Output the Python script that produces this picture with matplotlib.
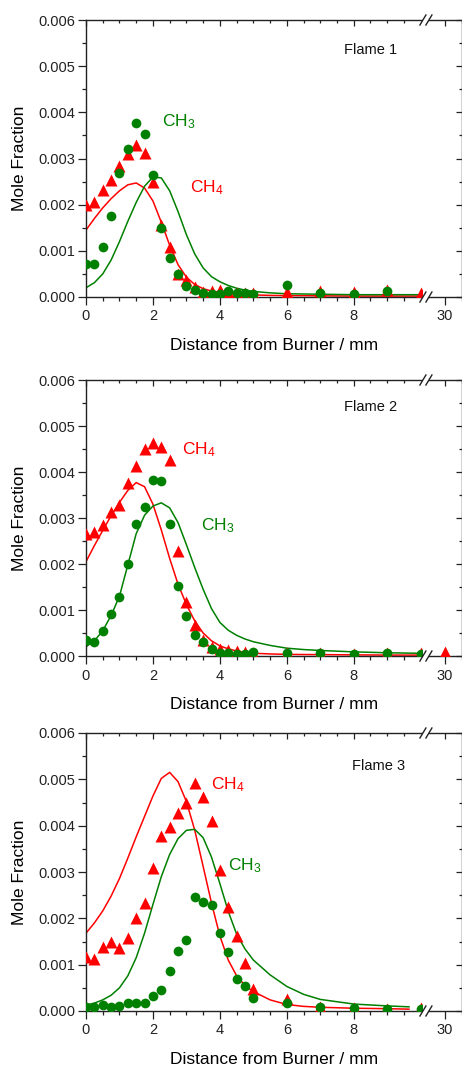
import numpy as np
import matplotlib
matplotlib.use('Agg')
from matplotlib import pyplot as plt
from matplotlib.lines import Line2D
from matplotlib.patches import Rectangle

plt.rcParams['font.family'] = ['Liberation Sans', 'DejaVu Sans']
plt.rcParams['mathtext.fontset'] = 'custom'
plt.rcParams['mathtext.rm'] = 'Liberation Sans'
plt.rcParams['mathtext.it'] = 'Liberation Sans'

# measured points (distance / mm), mole fractions in units of 1e-3
x_pts = [0, 0.25, 0.5, 0.75, 1.0, 1.25, 1.5, 1.75, 2.0, 2.25, 2.5, 2.75, 3.0,
         3.25, 3.5, 3.75, 4.0, 4.25, 4.5, 4.75, 5.0, 6, 7, 8, 9, 10]
x_pts2 = x_pts + [30]

ch4_f1 = [2.00, 2.06, 2.31, 2.53, 2.84, 3.09, 3.29, 3.11, 2.49, 1.55, 1.08, 0.50, 0.36,
          0.22, 0.11, 0.14, 0.16, 0.11, 0.09, 0.09, 0.08, 0.10, 0.14, 0.10, 0.16, 0.08]
ch3_f1 = [0.72, 0.72, 1.08, 1.76, 2.69, 3.20, 3.77, 3.52, 2.64, 1.50, 0.85, 0.49, 0.23,
          0.16, 0.09, 0.07, 0.07, 0.13, 0.09, 0.09, 0.07, 0.27, 0.09, 0.07, 0.13, np.nan]

ch4_f2 = [2.65, 2.69, 2.85, 3.12, 3.28, 3.77, 4.12, 4.50, 4.62, 4.54, 4.26, 2.28, 1.18,
          0.67, 0.35, 0.20, 0.15, 0.12, 0.10, 0.08, 0.06, 0.06, 0.07, 0.05, 0.06, 0.07, 0.09]
ch3_f2 = [0.35, 0.31, 0.54, 0.91, 1.29, 1.99, 2.86, 3.25, 3.83, 3.81, 2.87, 1.52, 0.88,
          0.46, 0.30, 0.15, 0.07, 0.06, 0.05, 0.05, 0.09, 0.06, 0.06, 0.04, 0.06, 0.04]

ch4_f3 = [1.16, 1.12, 1.39, 1.50, 1.35, 1.58, 2.00, 2.33, 3.08, 3.77, 3.98, 4.27, 4.49,
          4.92, 4.62, 4.11, 3.05, 2.25, 1.61, 1.04, 0.47, 0.25, 0.09, 0.06, 0.04, 0.06]
ch3_f3 = [0.09, 0.09, 0.13, 0.09, 0.11, 0.17, 0.18, 0.18, 0.32, 0.45, 0.87, 1.30, 1.53,
          2.45, 2.35, 2.29, 1.69, 1.27, 0.68, 0.53, 0.27, 0.17, 0.08, 0.06, 0.04, 0.04]

# model curves
x_mod = [0, 0.25, 0.5, 0.75, 1.0, 1.25, 1.5, 1.75, 2.0, 2.25, 2.5, 2.75, 3.0, 3.25,
         3.5, 3.75, 4.0, 4.25, 4.5, 4.75, 5.0, 5.5, 6, 6.5, 7, 8, 9, 9.9]
x_mod3 = x_mod[:-1] + [9.65]

m_ch4_f1 = [1.45, 1.70, 1.93, 2.13, 2.30, 2.43, 2.47, 2.36, 2.08, 1.62, 1.12, 0.70, 0.43, 0.27,
            0.18, 0.13, 0.10, 0.075, 0.06, 0.05, 0.045, 0.035, 0.03, 0.028, 0.025, 0.02, 0.02, 0.02]
m_ch3_f1 = [0.20, 0.31, 0.50, 0.80, 1.20, 1.64, 2.05, 2.40, 2.60, 2.58, 2.30, 1.85, 1.35, 0.93,
            0.63, 0.44, 0.33, 0.25, 0.19, 0.15, 0.12, 0.09, 0.07, 0.065, 0.06, 0.05, 0.05, 0.05]

m_ch4_f2 = [2.05, 2.40, 2.73, 3.05, 3.34, 3.60, 3.77, 3.68, 3.30, 2.74, 2.12, 1.56, 1.12, 0.76,
            0.50, 0.33, 0.22, 0.155, 0.11, 0.08, 0.06, 0.045, 0.035, 0.032, 0.03, 0.025, 0.02, 0.02]
m_ch3_f2 = [0.20, 0.33, 0.55, 0.88, 1.30, 1.98, 2.66, 3.06, 3.26, 3.33, 3.22, 2.90, 2.42, 1.92,
            1.45, 1.03, 0.73, 0.56, 0.45, 0.37, 0.31, 0.23, 0.17, 0.14, 0.12, 0.09, 0.07, 0.06]

m_ch4_f3 = [1.68, 1.90, 2.16, 2.48, 2.86, 3.30, 3.76, 4.20, 4.64, 5.02, 5.15, 4.95, 4.52, 3.90,
            3.12, 2.33, 1.62, 1.10, 0.76, 0.55, 0.42, 0.24, 0.14, 0.10, 0.08, 0.06, 0.05, 0.04]
m_ch3_f3 = [0.13, 0.17, 0.24, 0.34, 0.50, 0.76, 1.15, 1.68, 2.30, 2.90, 3.38, 3.72, 3.90, 3.92,
            3.74, 3.32, 2.75, 2.15, 1.66, 1.34, 1.10, 0.78, 0.53, 0.36, 0.25, 0.15, 0.11, 0.09]

x_major = [0, 2, 4, 6, 8, 30]
x_minor = [0.5, 1, 1.5, 2.5, 3, 3.5, 4.5, 5, 5.5, 6.5, 7, 7.5, 8.5, 9, 9.5, 30.5]

RED = '#ff0000'
GREEN = '#008000'

# broken x axis: 0..10 then 29.3..
BRK = 10.0
RS = 29.3
EPS = 0.001
Y1 = BRK + (RS - BRK) * EPS


def fwd(x):
    x = np.asarray(x, float)
    return np.where(x <= BRK, x, np.where(x < RS, BRK + (x - BRK) * EPS, x - RS + Y1))


def inv(y):
    y = np.asarray(y, float)
    return np.where(y <= BRK, y, np.where(y < Y1, BRK + (y - BRK) / EPS, y - Y1 + RS))


XMAX = 30.46


def set_x(ax):
    ax.set_xscale('function', functions=(fwd, inv))
    ax.set_xlim(0, XMAX)
    ax.set_xticks(x_major)
    ax.set_xticks(x_minor, minor=True)


def panel(ax, xa, ch4, xb, ch3, m_x, m4, m3, flame, t4, t3):
    ax.plot(m_x, np.array(m4) * 1e-3, color=RED, lw=1.1, zorder=2)
    ax.plot(m_x, np.array(m3) * 1e-3, color=GREEN, lw=1.1, zorder=2)
    ax.plot(xa, np.array(ch4) * 1e-3, '^', color=RED, ms=8.5, mec='none', zorder=3)
    ax.plot(xb, np.array(ch3) * 1e-3, 'o', color=GREEN, ms=7, mec='none', zorder=4)

    set_x(ax)
    ax.set_ylim(0, 0.006)
    ax.set_yticks([0, 0.001, 0.002, 0.003, 0.004, 0.005, 0.006])
    ax.set_yticks(np.arange(0.0005, 0.006, 0.001), minor=True)
    ax.yaxis.set_major_formatter(matplotlib.ticker.FormatStrFormatter('%.3f'))
    ax.set_xticklabels(['0', '2', '4', '6', '8', '30'])
    ax.tick_params(which='major', direction='out', length=5.5, width=0.9, labelsize=10.5,
                   colors='#222222', pad=2.5)
    ax.tick_params(which='minor', direction='out', length=3, width=0.9, colors='#222222')
    ax.tick_params(axis='x', which='major', pad=3.5)
    ax.set_ylabel('Mole Fraction', fontsize=12.5, labelpad=8)
    for s in ax.spines.values():
        s.set_color('#222222')
        s.set_linewidth(1.0)

    # inward ticks on top and right
    top = ax.twiny()
    set_x(top)
    top.set_xticklabels([])
    top.tick_params(which='major', direction='in', length=4.5, width=0.9, colors='#222222')
    top.tick_params(which='minor', direction='in', length=2.5, width=0.9, colors='#222222')
    top.tick_params(axis='x', labeltop=False)
    for s in top.spines.values():
        s.set_visible(False)
    rt = ax.twinx()
    rt.set_ylim(0, 0.006)
    rt.set_yticks([0, 0.001, 0.002, 0.003, 0.004, 0.005, 0.006])
    rt.set_yticks(np.arange(0.0005, 0.006, 0.001), minor=True)
    rt.set_yticklabels([])
    rt.tick_params(which='major', direction='in', length=4.5, width=0.9, colors='#222222')
    rt.tick_params(which='minor', direction='in', length=2.5, width=0.9, colors='#222222')
    for s in rt.spines.values():
        s.set_visible(False)

    ax.text(t4[0], t4[1] * 1e-3, r'CH$_4$', color=RED, fontsize=12.5, ha='left', va='baseline')
    ax.text(t3[0], t3[1] * 1e-3, r'CH$_3$', color=GREEN, fontsize=12.5, ha='left', va='baseline')
    ax.text(flame[1], flame[2] * 1e-3, flame[0], fontsize=10.5, ha='left', va='center',
            color='#111111')

    # break marks
    bb = ax.get_position()
    wpx = bb.width * fig.get_figwidth() * fig.dpi
    hpx = bb.height * fig.get_figheight() * fig.dpi
    d_hi = float(fwd(XMAX))
    xc = (float(BRK) + 0.12) / d_hi
    dx = 1.0 / wpx
    dy = 1.0 / hpx
    for yb in (0, 1):
        ax.add_patch(Rectangle((xc - 2.8 * dx, yb - 6 * dy), 5.6 * dx, 12 * dy,
                               transform=ax.transAxes, facecolor='white', edgecolor='none',
                               clip_on=False, zorder=10))
        for off in (-3, 3):
            ax.add_line(Line2D([xc + (off - 3) * dx, xc + (off + 3) * dx],
                               [yb - 5 * dy, yb + 5 * dy], transform=ax.transAxes,
                               color='#222222', lw=1.0, clip_on=False, zorder=11))


fig = plt.figure(figsize=(4.62, 10.66), dpi=100)
left = 86 / 462
width = 375.5 / 462
ax1 = fig.add_axes([left, 1 - 297 / 1066, width, 277 / 1066])
ax2 = fig.add_axes([left, 1 - 656 / 1066, width, 276 / 1066])
ax3 = fig.add_axes([left, 1 - 1011 / 1066, width, 278 / 1066])

panel(ax1, x_pts, ch4_f1, x_pts, ch3_f1, x_mod, m_ch4_f1, m_ch3_f1,
      ('Flame 1', 7.71, 5.36), (3.10, 2.26), (2.26, 3.69))
panel(ax2, x_pts2, ch4_f2, x_pts, ch3_f2, x_mod, m_ch4_f2, m_ch3_f2,
      ('Flame 2', 7.71, 5.41), (2.88, 4.39), (3.44, 2.74))
panel(ax3, x_pts, ch4_f3, x_pts, ch3_f3, x_mod3, m_ch4_f3, m_ch3_f3,
      ('Flame 3', 7.94, 5.29), (3.73, 4.79), (4.23, 3.03))

for ax in (ax1, ax2, ax3):
    ax.set_xlabel('Distance from Burner / mm', fontsize=12.5, labelpad=10.5)

fig.savefig('out.png', dpi=100)
